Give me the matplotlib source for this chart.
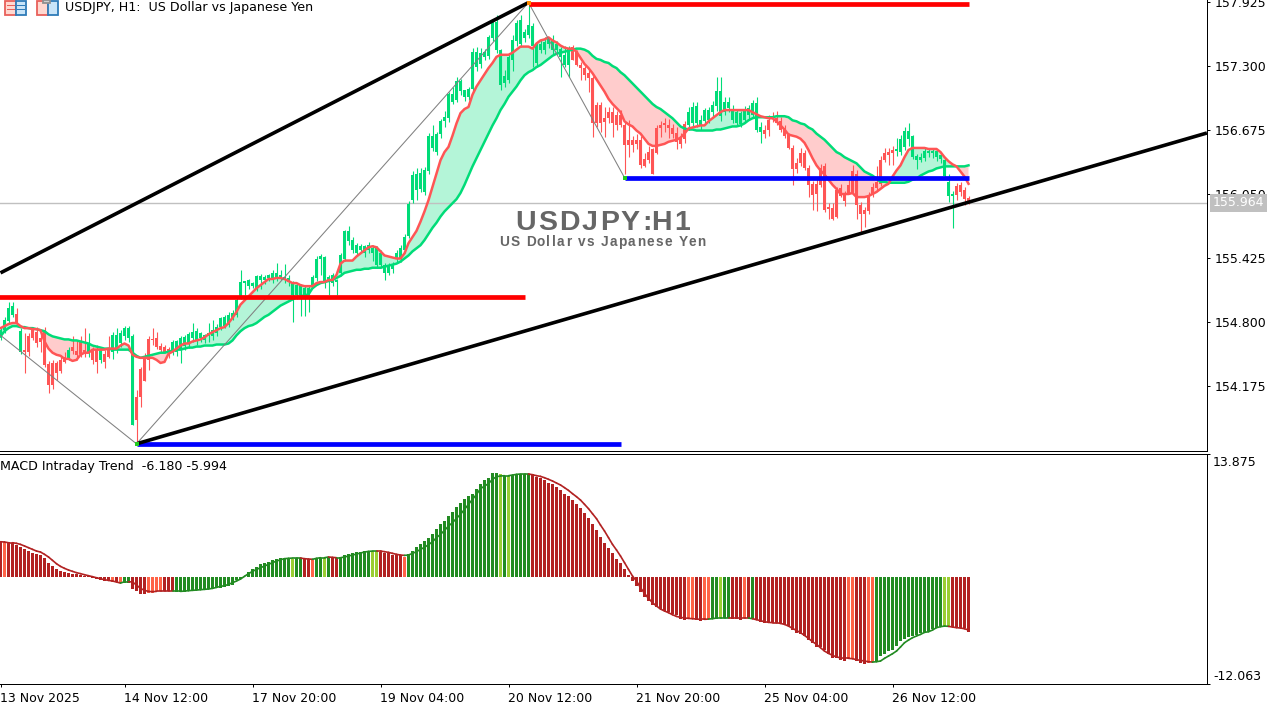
import numpy as np
import matplotlib
matplotlib.use('Agg')
from matplotlib import pyplot as plt
from matplotlib.patches import Rectangle
from matplotlib.font_manager import FontProperties

# hourly candles
opens = [154.66,154.72,154.81,154.87,154.88,154.51,154.53,154.66,154.72,154.70,
         154.64,154.72,154.39,154.40,154.40,154.43,154.46,154.45,154.56,154.52,
         154.60,154.53,154.50,154.52,154.53,154.43,154.49,154.53,154.51,154.54,
         154.59,154.66,154.64,153.79,154.07,154.34,154.44,154.63,154.63,154.64,
         154.57,154.56,154.54,154.51,154.51,154.54,154.57,154.59,154.64,154.61,
         154.64,154.62,154.66,154.66,154.69,154.75,154.76,154.77,154.84,154.87,
         155.05,155.18,155.15,155.15,155.13,155.21,155.21,155.23,155.21,155.23,
         155.23,155.21,155.19,155.06,155.06,155.06,155.05,155.05,155.15,155.23,
         155.42,155.19,155.19,155.18,155.19,155.28,155.42,155.59,155.50,155.47,
         155.50,155.47,155.50,155.47,155.36,155.36,155.28,155.28,155.32,155.42,
         155.42,155.50,155.64,155.99,156.09,156.10,156.07,156.27,156.50,156.46,
         156.64,156.76,156.79,156.95,156.97,157.06,157.00,157.00,157.08,157.29,
         157.32,157.39,157.40,157.57,157.46,157.11,157.13,157.16,157.36,157.54,
         157.52,157.57,157.60,157.50,157.33,157.46,157.46,157.52,157.46,157.46,
         157.39,157.31,157.31,157.49,157.44,157.31,157.28,157.23,157.18,156.92,
         156.92,156.79,156.85,156.85,156.82,156.82,156.72,156.58,156.58,156.58,
         156.58,156.39,156.46,156.49,156.69,156.72,156.74,156.72,156.69,156.65,
         156.59,156.73,156.72,156.74,156.74,156.72,156.76,156.77,156.85,156.91,
         156.81,156.85,156.89,156.77,156.74,156.73,156.77,156.82,156.82,156.68,
         156.66,156.68,156.77,156.81,156.79,156.76,156.69,156.63,156.50,156.35,
         156.45,156.45,156.30,156.15,156.15,156.30,156.32,155.92,155.91,156.09,
         156.11,156.04,156.14,156.27,156.25,155.94,155.89,156.04,156.12,156.17,
         156.38,156.45,156.46,156.48,156.47,156.46,156.51,156.59,156.41,156.38,
         156.38,156.40,156.45,156.45,156.41,156.39,156.23,156.03,156.03,156.13,
         156.14,156.09,156.01]
highs = [154.75,154.85,155.00,155.00,154.94,154.74,154.69,154.69,154.75,154.75,
         154.70,154.75,154.42,154.43,154.42,154.46,154.51,154.56,154.66,154.62,
         154.66,154.74,154.69,154.56,154.58,154.56,154.53,154.66,154.70,154.74,
         154.72,154.76,154.76,154.68,154.14,154.36,154.50,154.66,154.74,154.70,
         154.59,154.58,154.56,154.62,154.62,154.66,154.67,154.70,154.79,154.74,
         154.70,154.68,154.79,154.82,154.78,154.85,154.87,154.90,154.92,155.03,
         155.31,155.20,155.22,155.19,155.26,155.27,155.26,155.27,155.31,155.38,
         155.31,155.37,155.26,155.20,155.18,155.17,155.15,155.16,155.26,155.44,
         155.46,155.44,155.26,155.28,155.22,155.47,155.70,155.74,155.63,155.57,
         155.56,155.55,155.58,155.55,155.54,155.50,155.38,155.38,155.39,155.50,
         155.55,155.66,155.98,156.27,156.30,156.30,156.31,156.65,156.72,156.66,
         156.78,156.86,157.05,157.10,157.19,157.17,157.07,157.10,157.48,157.49,
         157.48,157.47,157.60,157.76,157.80,157.47,157.26,157.42,157.60,157.75,
         157.80,157.66,157.92,157.72,157.53,157.56,157.58,157.58,157.60,157.54,
         157.49,157.50,157.50,157.51,157.46,157.34,157.30,157.26,157.20,156.95,
         156.95,156.90,156.90,156.90,156.86,156.87,156.75,156.77,156.62,156.64,
         156.62,156.45,156.52,156.50,156.72,156.76,156.79,156.78,156.73,156.70,
         156.65,156.76,156.90,156.95,156.95,156.82,156.89,156.90,156.96,157.19,
         157.19,157.00,157.00,156.92,156.88,156.86,156.91,156.92,156.97,157.00,
         156.75,156.72,156.82,156.85,156.86,156.80,156.72,156.65,156.53,156.40,
         156.50,156.48,156.33,156.18,156.20,156.34,156.35,155.96,155.96,156.12,
         156.15,156.08,156.20,156.33,156.28,155.97,155.92,156.07,156.16,156.32,
         156.42,156.50,156.50,156.52,156.60,156.63,156.70,156.74,156.63,156.44,
         156.45,156.50,156.50,156.50,156.49,156.44,156.40,156.25,156.08,156.16,
         156.17,156.12,156.03]
lows = [154.62,154.69,154.79,154.85,154.79,154.49,154.30,154.47,154.62,154.56,
        154.51,154.36,154.11,154.15,154.23,154.30,154.40,154.43,154.49,154.43,
        154.46,154.46,154.46,154.39,154.30,154.40,154.35,154.45,154.44,154.50,
        154.56,154.62,154.60,153.79,153.61,153.97,154.22,154.33,154.58,154.54,
        154.50,154.50,154.45,154.48,154.47,154.40,154.53,154.55,154.60,154.58,
        154.60,154.59,154.60,154.62,154.66,154.72,154.74,154.75,154.82,154.85,
        155.02,155.06,155.12,155.13,155.10,155.12,155.17,155.20,155.18,155.20,
        155.21,155.18,155.15,154.80,155.02,154.86,154.86,154.90,155.13,155.20,
        155.26,155.13,155.06,155.15,155.06,155.25,155.40,155.55,155.47,155.45,
        155.47,155.43,155.47,155.40,155.33,155.33,155.21,155.26,155.28,155.38,
        155.39,155.47,155.62,155.96,155.99,156.07,156.04,156.25,156.47,156.43,
        156.60,156.70,156.75,156.93,156.95,157.02,156.96,156.97,157.05,157.25,
        157.28,157.36,157.37,157.54,157.43,157.07,157.10,157.13,157.25,157.50,
        157.49,157.53,157.57,157.29,157.29,157.43,157.42,157.48,157.42,157.42,
        157.19,157.29,157.19,157.36,157.30,157.16,157.16,157.05,156.61,156.70,
        156.66,156.61,156.74,156.61,156.68,156.70,156.25,156.41,156.46,156.49,
        156.30,156.31,156.35,156.25,156.44,156.61,156.66,156.60,156.60,156.49,
        156.50,156.55,156.68,156.70,156.70,156.68,156.72,156.74,156.80,156.86,
        156.76,156.82,156.85,156.74,156.72,156.70,156.74,156.78,156.79,156.66,
        156.55,156.60,156.62,156.75,156.72,156.66,156.60,156.49,156.14,156.26,
        156.32,156.28,156.02,155.89,155.88,156.12,155.87,155.81,155.80,155.82,
        156.02,155.93,156.05,156.05,155.81,155.67,155.73,155.85,156.02,156.09,
        156.13,156.36,156.33,156.33,156.42,156.43,156.48,156.52,156.39,156.29,
        156.36,156.37,156.41,156.40,156.37,156.35,156.20,155.97,155.72,155.99,
        156.03,155.94,155.95]
closes = [154.72,154.82,154.94,154.96,154.80,154.71,154.51,154.51,154.64,154.59,
          154.60,154.38,154.18,154.18,154.30,154.32,154.41,154.53,154.52,154.48,
          154.49,154.51,154.59,154.43,154.41,154.53,154.41,154.46,154.67,154.67,
          154.69,154.74,154.74,154.66,153.84,154.07,154.22,154.43,154.62,154.56,
          154.53,154.51,154.51,154.60,154.61,154.64,154.65,154.68,154.70,154.71,
          154.69,154.67,154.69,154.72,154.75,154.84,154.85,154.87,154.89,155.01,
          155.19,155.20,155.21,155.18,155.25,155.25,155.24,155.26,155.28,155.28,
          155.26,155.24,155.23,155.18,155.16,155.16,155.13,155.13,155.24,155.42,
          155.44,155.43,155.24,155.26,155.21,155.45,155.69,155.69,155.60,155.55,
          155.54,155.54,155.55,155.52,155.52,155.47,155.36,155.36,155.37,155.47,
          155.52,155.63,155.95,156.24,156.25,156.26,156.28,156.62,156.62,156.64,
          156.76,156.80,157.03,157.03,157.15,157.15,157.07,157.08,157.44,157.44,
          157.43,157.44,157.58,157.73,157.73,157.46,157.20,157.39,157.55,157.72,
          157.75,157.63,157.70,157.69,157.52,157.52,157.53,157.57,157.55,157.52,
          157.47,157.41,157.47,157.36,157.31,157.28,157.21,157.18,156.74,156.74,
          156.74,156.75,156.79,156.74,156.72,156.72,156.53,156.53,156.53,156.54,
          156.33,156.32,156.38,156.25,156.45,156.69,156.72,156.69,156.64,156.56,
          156.54,156.59,156.85,156.90,156.91,156.77,156.87,156.87,156.92,157.06,
          157.06,156.95,156.95,156.87,156.85,156.84,156.87,156.89,156.94,156.94,
          156.70,156.64,156.68,156.79,156.74,156.68,156.62,156.50,156.29,156.29,
          156.35,156.30,156.14,156.04,156.05,156.14,155.89,155.90,155.81,155.83,
          156.03,155.98,156.06,156.06,155.94,155.85,155.85,155.88,156.04,156.11,
          156.15,156.38,156.43,156.45,156.49,156.59,156.67,156.67,156.62,156.42,
          156.41,156.47,156.47,156.47,156.47,156.43,156.38,156.17,156.05,156.04,
          156.07,156.00,155.97]

# fast and slow moving averages
ma_fast = [154.74,154.76,154.78,154.79,154.79,154.76,154.74,154.74,154.73,154.73,
           154.72,154.61,154.54,154.50,154.48,154.47,154.44,154.44,154.42,154.43,
           154.48,154.50,154.50,154.53,154.53,154.53,154.53,154.54,154.54,154.54,
           154.57,154.59,154.57,154.48,154.46,154.45,154.45,154.45,154.45,154.43,
           154.40,154.41,154.49,154.51,154.54,154.57,154.59,154.59,154.61,154.62,
           154.63,154.65,154.68,154.70,154.72,154.74,154.75,154.79,154.84,154.90,
           154.97,155.01,155.05,155.09,155.13,155.16,155.19,155.22,155.22,155.23,
           155.23,155.22,155.20,155.18,155.18,155.16,155.15,155.15,155.15,155.18,
           155.19,155.19,155.21,155.21,155.26,155.37,155.40,155.40,155.40,155.44,
           155.47,155.50,155.53,155.54,155.53,155.49,155.45,155.44,155.43,155.42,
           155.42,155.47,155.57,155.63,155.69,155.78,155.88,155.99,156.12,156.25,
           156.38,156.46,156.51,156.62,156.74,156.84,156.88,156.90,157.02,157.10,
           157.16,157.22,157.28,157.33,157.39,157.41,157.41,157.41,157.43,157.46,
           157.49,157.49,157.49,157.47,157.52,157.55,157.56,157.58,157.55,157.53,
           157.50,157.48,157.47,157.47,157.44,157.38,157.32,157.28,157.23,157.17,
           157.11,157.05,156.98,156.93,156.89,156.85,156.76,156.73,156.71,156.67,
           156.64,156.59,156.54,156.52,156.52,156.53,156.54,156.56,156.57,156.58,
           156.60,156.64,156.69,156.70,156.71,156.72,156.72,156.76,156.79,156.82,
           156.85,156.87,156.87,156.87,156.87,156.87,156.87,156.87,156.85,156.83,
           156.81,156.80,156.79,156.79,156.76,156.72,156.68,156.63,156.62,156.61,
           156.59,156.55,156.48,156.40,156.33,156.28,156.24,156.19,156.14,156.10,
           156.05,156.05,156.05,156.06,156.02,156.02,156.02,156.03,156.05,156.07,
           156.10,156.13,156.15,156.22,156.28,156.33,156.41,156.48,156.50,156.50,
           156.50,156.50,156.49,156.49,156.49,156.46,156.41,156.37,156.34,156.32,
           156.27,156.22,156.15]
ma_slow = [154.66,154.71,154.74,154.76,154.76,154.75,154.75,154.74,154.74,154.73,
           154.72,154.71,154.68,154.66,154.65,154.64,154.63,154.63,154.62,154.62,
           154.61,154.60,154.59,154.57,154.56,154.55,154.54,154.54,154.53,154.53,
           154.53,154.53,154.53,154.50,154.47,154.45,154.46,154.47,154.48,154.49,
           154.50,154.50,154.51,154.52,154.53,154.53,154.54,154.55,154.55,154.56,
           154.56,154.57,154.57,154.57,154.58,154.58,154.58,154.59,154.62,154.67,
           154.71,154.74,154.76,154.77,154.79,154.82,154.85,154.87,154.90,154.93,
           154.96,154.98,155.00,155.02,155.04,155.05,155.06,155.07,155.13,155.16,
           155.18,155.19,155.20,155.21,155.23,155.25,155.28,155.29,155.30,155.31,
           155.31,155.32,155.32,155.33,155.33,155.33,155.34,155.35,155.36,155.37,
           155.39,155.42,155.45,155.49,155.52,155.55,155.60,155.66,155.72,155.77,
           155.83,155.88,155.92,155.96,156.00,156.06,156.14,156.23,156.32,156.40,
           156.48,156.56,156.64,156.72,156.79,156.87,156.93,157.00,157.05,157.10,
           157.16,157.21,157.24,157.26,157.29,157.31,157.34,157.37,157.40,157.42,
           157.43,157.44,157.45,157.46,157.47,157.47,157.46,157.44,157.40,157.37,
           157.36,157.34,157.33,157.30,157.28,157.24,157.21,157.17,157.13,157.09,
           157.05,157.01,156.97,156.93,156.90,156.88,156.85,156.82,156.79,156.75,
           156.71,156.69,156.68,156.68,156.67,156.67,156.67,156.67,156.67,156.68,
           156.68,156.69,156.70,156.71,156.71,156.72,156.74,156.77,156.79,156.80,
           156.80,156.80,156.80,156.80,156.81,156.81,156.81,156.80,156.77,156.76,
           156.74,156.73,156.70,156.68,156.64,156.61,156.58,156.54,156.50,156.46,
           156.44,156.41,156.39,156.37,156.35,156.31,156.27,156.25,156.23,156.20,
           156.17,156.17,156.16,156.16,156.16,156.16,156.16,156.17,156.19,156.20,
           156.23,156.25,156.27,156.28,156.30,156.31,156.32,156.32,156.32,156.32,
           156.32,156.32,156.33]

# macd histogram and signal line
macd_hist = [3.98,3.98,3.91,3.83,3.61,3.38,3.20,2.93,2.74,2.56,
             2.44,2.11,1.58,1.24,0.86,0.68,0.56,0.41,0.38,0.30,
             0.23,0.11,0.08,-0.08,-0.23,-0.34,-0.45,-0.45,-0.53,-0.60,
             -0.68,-0.64,-0.64,-1.39,-1.58,-1.88,-1.88,-1.77,-1.77,-1.58,
             -1.58,-1.58,-1.58,-1.58,-1.65,-1.65,-1.65,-1.62,-1.58,-1.50,
             -1.47,-1.43,-1.39,-1.35,-1.28,-1.20,-1.13,-1.02,-0.90,-0.38,
             -0.26,0.02,0.60,0.94,1.17,1.43,1.62,1.73,1.88,2.03,
             2.14,2.18,2.18,2.03,2.11,2.11,2.07,2.03,2.00,2.11,
             2.18,2.18,2.26,2.18,2.11,2.26,2.44,2.56,2.67,2.82,
             2.86,2.89,2.93,2.93,2.93,2.86,2.74,2.67,2.52,2.48,
             2.44,2.26,2.56,2.93,3.38,3.68,4.06,4.44,4.89,5.38,
             5.94,6.32,6.84,7.37,7.89,8.38,8.76,9.14,9.32,9.89,
             10.45,10.90,11.20,11.69,11.77,11.65,11.39,11.39,11.50,11.65,
             11.65,11.65,11.65,11.58,11.28,11.20,10.90,10.64,10.45,10.15,
             9.77,9.32,9.14,8.65,8.20,7.74,7.26,6.69,5.94,5.26,
             4.55,3.87,3.31,2.67,2.07,1.54,0.86,0.23,-0.45,-1.02,
             -1.69,-2.26,-2.71,-3.16,-3.38,-3.61,-3.83,-3.91,-4.14,-4.29,
             -4.77,-4.85,-4.77,-4.74,-4.85,-4.96,-4.89,-4.74,-4.77,-4.74,
             -4.66,-4.62,-4.62,-4.70,-4.74,-4.85,-4.66,-4.62,-4.70,-4.85,
             -5.04,-5.15,-5.15,-5.15,-5.15,-5.23,-5.34,-5.53,-5.98,-6.35,
             -6.47,-6.65,-7.11,-7.41,-7.89,-7.89,-8.27,-8.72,-9.10,-9.10,
             -9.36,-9.47,-9.29,-9.29,-9.47,-9.66,-9.77,-9.66,-9.55,-9.55,
             -8.91,-8.72,-8.35,-8.27,-7.78,-7.22,-6.95,-6.77,-6.65,-6.58,
             -6.28,-6.20,-6.09,-5.90,-5.71,-5.49,-5.53,-5.53,-5.64,-5.71,
             -5.71,-5.79,-6.18]
macd_signal = [3.98,3.95,3.87,3.87,3.80,3.68,3.50,3.31,3.12,2.93,
               2.82,2.56,2.26,1.88,1.50,1.20,0.98,0.79,0.64,0.49,
               0.38,0.26,0.15,0.04,-0.08,-0.19,-0.30,-0.38,-0.45,-0.56,
               -0.68,-0.53,-0.53,-0.56,-0.90,-1.28,-1.50,-1.62,-1.65,-1.62,
               -1.62,-1.62,-1.62,-1.62,-1.62,-1.62,-1.58,-1.54,-1.50,-1.47,
               -1.43,-1.39,-1.35,-1.28,-1.17,-1.05,-0.98,-0.83,-0.64,-0.45,
               -0.23,0.08,0.38,0.64,0.86,1.05,1.24,1.43,1.62,1.80,
               1.95,2.07,2.11,2.14,2.14,2.14,2.07,2.03,2.00,2.11,
               2.18,2.18,2.26,2.22,2.18,2.18,2.26,2.37,2.48,2.59,
               2.71,2.82,2.89,2.93,2.93,2.93,2.86,2.78,2.67,2.56,
               2.48,2.44,2.48,2.67,2.86,3.12,3.35,3.65,3.98,4.44,
               4.81,5.26,5.75,6.13,6.62,7.07,7.63,8.20,8.76,9.32,
               9.96,10.26,10.53,11.02,11.32,11.39,11.43,11.43,11.50,11.58,
               11.62,11.62,11.62,11.54,11.43,11.35,11.20,11.02,10.83,10.60,
               10.38,10.08,9.77,9.40,9.06,8.68,8.20,7.71,7.14,6.58,
               5.86,5.19,4.44,3.68,3.05,2.37,1.62,0.86,0.11,-0.45,
               -1.20,-1.84,-2.41,-2.89,-3.27,-3.61,-3.83,-4.02,-4.25,-4.44,
               -4.55,-4.62,-4.66,-4.70,-4.74,-4.77,-4.77,-4.74,-4.70,-4.62,
               -4.62,-4.62,-4.62,-4.62,-4.62,-4.62,-4.62,-4.62,-4.70,-4.81,
               -4.92,-5.04,-5.11,-5.15,-5.15,-5.23,-5.34,-5.53,-5.79,-6.02,
               -6.28,-6.58,-6.92,-7.29,-7.59,-7.97,-8.35,-8.61,-8.83,-9.02,
               -9.10,-9.17,-9.17,-9.21,-9.32,-9.40,-9.47,-9.55,-9.59,-9.55,
               -9.47,-9.17,-8.91,-8.65,-8.35,-7.89,-7.41,-7.11,-6.84,-6.65,
               -6.47,-6.24,-6.17,-5.98,-5.71,-5.60,-5.53,-5.56,-5.64,-5.71,
               -5.75,-5.83,-5.98]
# trend state of the histogram: D down, d weak down, U up, u weak up
state_runs = [('D',1),('d',1),('D',26),('d',1),('D',1),('d',1),('U',2),('D',4),('d',4),('D',3),
              ('U',29),('u',1),('U',2),('D',2),('d',1),('U',2),('u',1),('U',1),('D',2),('U',8),
              ('u',2),('D',6),('d',1),('U',23),('u',1),('U',1),('u',1),('U',5),('D',39),('d',2),
              ('D',2),('d',2),('U',2),('u',1),('U',2),('D',3),('d',1),('D',1),('U',1),('D',23),
              ('d',2),('D',3),('d',2),('U',17),('u',2),('D',5)]

# drawn objects on the price chart: bar index, price
upper_trend_x = [0, 132]
upper_trend_y = [155.28, 157.92]
lower_trend_x = [34, 301.6]
lower_trend_y = [153.61, 156.646]
zigzag_x = [0, 34, 132, 156]
zigzag_y = [154.67, 153.61, 157.92, 156.21]
red_levels = [(-1, 131, 155.04), (132, 242, 157.905)]
blue_levels = [(34, 155, 153.61), (156, 242, 156.205)]
last_price = 155.964

price_ticks = [157.925, 157.300, 156.675, 156.050, 155.425, 154.800, 154.175]
macd_ticks = [13.875, -12.063]
time_positions = [0, 31, 63, 95, 127, 159, 191, 223]
time_labels = ['13 Nov 2025', '14 Nov 12:00', '17 Nov 20:00', '19 Nov 04:00',
               '20 Nov 12:00', '21 Nov 20:00', '25 Nov 04:00', '26 Nov 12:00']

UP = '#00DC78'
DOWN = '#FF5555'
W, H = 1284, 709

x = np.arange(len(closes))
o = np.array(opens)
c = np.array(closes)
fast = np.array(ma_fast)
slow = np.array(ma_slow)
states = ''.join(s * n for s, n in state_runs)
state_colors = {'D': '#B22222', 'd': '#FF6347', 'U': '#228B22', 'u': '#9ACD32'}

fig = plt.figure(figsize=(W / 100, H / 100), dpi=100)
ax = fig.add_axes([0, 1 - 451 / H, 1207 / W, 451 / H])
ax2 = fig.add_axes([0, 1 - 684 / H, 1207 / W, 230 / H])

# price chart
ax.fill_between(x, fast, slow, where=fast >= slow, interpolate=True, color='#B4F5D8', lw=0, zorder=1)
ax.fill_between(x, fast, slow, where=fast < slow, interpolate=True, color='#FFCCCC', lw=0, zorder=1)

colors = [UP if c[i] >= o[i] else DOWN for i in x]
ax.vlines(x, lows, highs, colors=colors, lw=0.8, zorder=2)
ax.bar(x, np.abs(c - o), bottom=np.minimum(o, c), width=0.75, color=colors, lw=0, antialiased=False, zorder=3)

ax.plot(x, slow, color=UP, lw=1.8, zorder=4)
ax.plot(x, fast, color=DOWN, lw=1.8, zorder=5)

ax.axhline(last_price, color='#C0C0C0', lw=1, zorder=1.5)
ax.plot(zigzag_x, zigzag_y, color='#808080', lw=0.75, zorder=6)
for x0, x1, level in red_levels:
    ax.plot([x0, x1], [level, level], color='#FF0000', lw=3.4, solid_capstyle='butt', zorder=7)
for x0, x1, level in blue_levels:
    ax.plot([x0, x1], [level, level], color='#0000FF', lw=3.4, solid_capstyle='butt', zorder=7)
ax.plot(upper_trend_x, upper_trend_y, color='black', lw=2.6, solid_capstyle='butt', zorder=8)
ax.plot(lower_trend_x, lower_trend_y, color='black', lw=2.6, solid_capstyle='butt', zorder=8)
ax.plot(zigzag_x[1], zigzag_y[1], 's', color='#22CC22', ms=3, mew=0, zorder=9)
ax.plot(zigzag_x[2], zigzag_y[2], 's', color='#FF8C00', ms=3, mew=0, zorder=9)
ax.plot(zigzag_x[3], zigzag_y[3], 's', color='#22CC22', ms=3.5, mew=0, zorder=9)

ax.set_xlim(-0.125, 301.625)
ax.set_ylim(153.540, 157.945)
ax.yaxis.tick_right()
ax.set_yticks(price_ticks)
ax.set_yticklabels(['%.3f' % p for p in price_ticks], fontsize=9)
ax.tick_params(axis='y', length=2.2, width=0.72, pad=3.3)
ax.set_xticks([])
ax.spines['top'].set_visible(False)
ax.spines['left'].set_visible(False)
for sp in ('right', 'bottom'):
    ax.spines[sp].set_linewidth(0.72)
ax.text(303.1, last_price, '%.3f' % last_price, color='white', fontsize=9, va='center', ha='left',
        clip_on=False, zorder=20,
        bbox=dict(boxstyle='square,pad=0.22', fc='#C0C0C0', ec='none'))


# watermark letters are spread out to a given width
def spaced_text(cx, cy, s, size, target):
    prop = FontProperties(family='Liberation Sans', weight='bold', size=size)
    rend = fig.canvas.get_renderer()
    width = lambda t: rend.get_text_width_height_descent(t, prop, False)[0]
    gap = (target - width(s)) / (len(s) - 1)
    left = cx - target / 2
    for k, ch in enumerate(s):
        px = left + width(s[:k]) + k * gap
        fig.text(px / W, 1 - cy / H, ch, fontproperties=prop, color='#666666', ha='left', va='center', zorder=10)


spaced_text(602.5, 223, 'USDJPY:H1', 20.5, 175)
spaced_text(602, 242, 'US Dollar vs Japanese Yen', 9.8, 206)

# macd
ax2.bar(x, macd_hist, width=0.75, color=[state_colors[s] for s in states], lw=0, antialiased=False, zorder=2)
for i in range(len(x) - 1):
    seg = '#B22222' if states[i + 1] in 'Dd' else '#228B22'
    ax2.plot(x[i:i + 2], macd_signal[i:i + 2], color=seg, lw=1.2, solid_capstyle='round', zorder=3)
ax2.set_xlim(-0.125, 301.625)
ax2.set_ylim(-12.063, 13.875)
ax2.yaxis.tick_right()
ax2.set_yticks(macd_ticks)
ax2.set_yticklabels(['', ''])
ax2.set_xticks(time_positions)
ax2.set_xticklabels(time_labels, fontsize=9, ha='left')
ax2.tick_params(axis='both', length=2.2, width=0.72, pad=3.3)
ax2.spines['left'].set_visible(False)
for sp in ('top', 'right', 'bottom'):
    ax2.spines[sp].set_linewidth(0.72)

fig.text(1213 / W, 1 - 462 / H, '13.875', fontsize=9, va='center', ha='left')
fig.text(1213 / W, 1 - 676 / H, '-12.063', fontsize=9, va='center', ha='left')
fig.text(0, 1 - 466.5 / H, 'MACD Intraday Trend  -6.180 -5.994', fontsize=9.1, va='center', ha='left')
fig.text(65 / W, 1 - 8 / H, 'USDJPY, H1:  US Dollar vs Japanese Yen', fontsize=9.1, va='center', ha='left')


# little toolbar icons in the corner
def px_rect(x0, y0, w, h, fc, ec='none'):
    fig.add_artist(Rectangle((x0 / W, 1 - (y0 + h) / H), w / W, h / H, fc=fc, ec=ec, lw=1.3,
                             transform=fig.transFigure))


px_rect(5, 1, 11, 14, '#FFD8D0', '#E8605A')
px_rect(16, 1, 10, 14, '#C8E4F8', '#2E7BB8')
for yy in (5, 9):
    px_rect(7, yy, 8, 1, '#E8605A')
    px_rect(17, yy, 8, 1, '#2E7BB8')
px_rect(37, 1, 11, 14, '#FFD8D0', '#E8605A')
px_rect(48, 1, 10, 14, '#C8E4F8', '#2E7BB8')
px_rect(43, 0, 7, 3, '#D0D0D0', '#909090')

fig.savefig('out.png', dpi=100, facecolor='white')
plt.close()
